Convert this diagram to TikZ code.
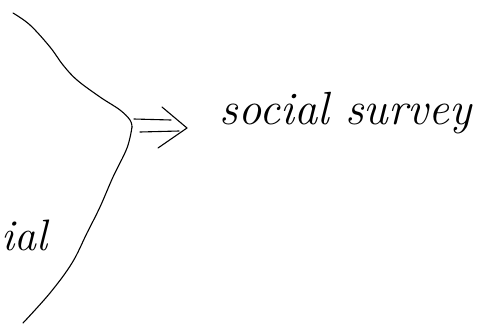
\documentclass[tikz,border=0pt]{standalone}
\usetikzlibrary{calc}
\usetikzlibrary{positioning}

\begin{document}
\begin{tikzpicture}[x=1pt, y=-1pt, line width=1.1pt, line cap=round, line join=round]
    \useasboundingbox (0,0) rectangle (486,325);

    \coordinate (braceTip) at (132,127);
    \node [anchor=base west, inner sep=0pt, font=\fontsize{46.5}{52}\selectfont\itshape] (survey) at (219,124) {social survey};
    \node [anchor=base east, inner sep=0pt, font=\fontsize{44}{50}\selectfont\itshape] (partLabel) at (48,250) {ial};

    % brace
    \draw plot [smooth, tension=0.6] coordinates {(13,13) (30,25) (50,47) (63,65) (77,80) (100,97) (120,110) (130,120) (braceTip)};
    \draw plot [smooth, tension=0.6] coordinates {(braceTip) (127,148) (113,177) (100,207) (87,233) (72,263) (50,293) (23,323)};

    % implies arrow
    \coordinate (arrowHead) at ($(survey.base west)+(-32,4)$);
    \draw ($(braceTip)+(2,-8)$) -- ($(arrowHead)+(-16,-8)$);
    \draw ($(braceTip)+(8,5)$) -- ($(arrowHead)+(-8,3)$);
    \draw ($(arrowHead)+(-25,-21)$) -- (arrowHead) -- ($(arrowHead)+(-29,20)$);
\end{tikzpicture}
\end{document}
